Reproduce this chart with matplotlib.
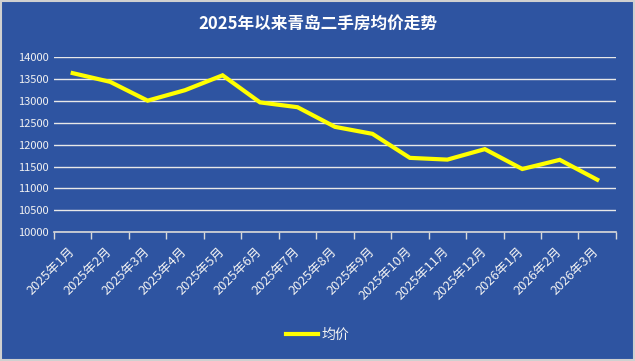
import matplotlib
matplotlib.use("Agg")
import matplotlib.pyplot as plt
from matplotlib.patches import Rectangle

plt.rcParams['font.family'] = ['Noto Sans CJK SC', 'DejaVu Sans']

months = ["2025年1月", "2025年2月", "2025年3月", "2025年4月", "2025年5月",
          "2025年6月", "2025年7月", "2025年8月", "2025年9月", "2025年10月",
          "2025年11月", "2025年12月", "2026年1月", "2026年2月", "2026年3月"]
avg_price = [13640, 13440, 13010, 13250, 13590, 12970, 12860, 12410, 12250,
             11700, 11660, 11900, 11445, 11655, 11200]
series_name = "均价"
title = "2025年以来青岛二手房均价走势"

bg = "#2E54A1"
fig = plt.figure(figsize=(6.35, 3.61), dpi=100, facecolor=bg)
ax = fig.add_axes([0.085, 0.357, 0.885, 0.484])
ax.set_facecolor(bg)

x = list(range(len(months)))
ax.plot(x, avg_price, color="#FFFF00", linewidth=3, label=series_name,
        solid_joinstyle="miter")

ax.set_xlim(-0.5, len(months) - 0.5)
ax.set_ylim(10000, 14000)
ax.set_yticks(range(10000, 14001, 500))
ax.yaxis.grid(True, color="#E8E8E8", linewidth=1)
ax.set_axisbelow(True)
for s in ["top", "right", "left"]:
    ax.spines[s].set_visible(False)
ax.spines["bottom"].set_color("#D9D9D9")
ax.spines["bottom"].set_linewidth(1.2)

ax.set_xticks(x)
ax.set_xticklabels(months, rotation=45, ha="right", va="center",
                   rotation_mode="anchor", fontsize=9.3, color="#F2F2F2")
ax.tick_params(axis="x", which="major", length=0, pad=12)
ax.set_xticks([i - 0.5 for i in range(len(months) + 1)], minor=True)
ax.tick_params(axis="x", which="minor", length=5, color="#D9D9D9", width=1)
ax.tick_params(axis="y", length=0, labelsize=8, labelcolor="#F2F2F2", pad=4)

fig.text(0.5, 0.935, title, ha="center", va="center", fontsize=12,
         fontweight="bold", color="white")

leg = fig.legend(loc="center", bbox_to_anchor=(0.5, 0.072), frameon=False,
                 fontsize=10, handlelength=2.3, handletextpad=0.3,
                 labelcolor="#F2F2F2")

fig.patches.append(Rectangle((0.001, 0.002), 0.997, 0.995, transform=fig.transFigure,
                             fill=False, edgecolor="#D0D0D0", linewidth=1.5))

fig.savefig("out.png", dpi=100, facecolor=bg)
